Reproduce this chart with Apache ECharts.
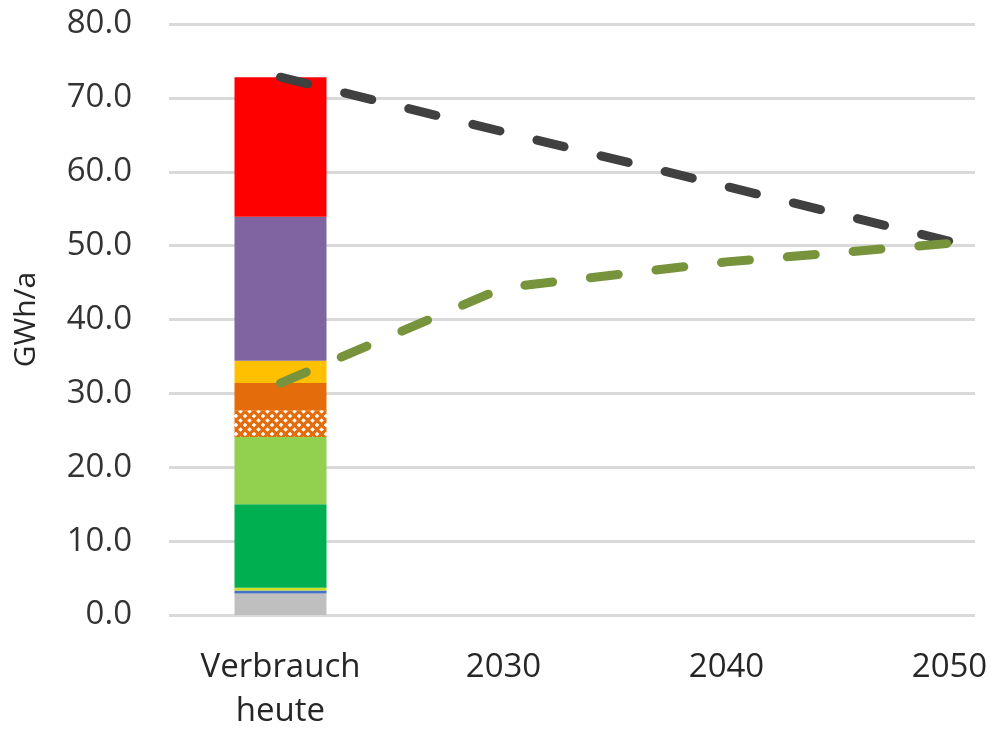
<!DOCTYPE html>
<html>
<head>
<meta charset="utf-8">
<script src="https://cdn.jsdelivr.net/npm/echarts@6/dist/echarts.min.js"></script>
<style>
  html, body { margin: 0; padding: 0; background: #ffffff; overflow: hidden; }
  #chart { width: 997px; height: 730px; }
</style>
</head>
<body>
<div id="chart"></div>
<script>
// Categories on the x axis
const categories = ['Verbrauch\nheute', '2030', '2040', '2050'];

// Stacked consumption today, bottom to top (GWh/a)
const segGrau       = [2.9, null, null, null];
const segBlau       = [0.4, null, null, null];
const segGelb       = [0.4, null, null, null];
const segGruen      = [11.3, null, null, null];
const segHellgruen  = [9.1, null, null, null];
const segSchraffur  = [3.6, null, null, null];
const segOrange     = [3.7, null, null, null];
const segGold       = [3.0, null, null, null];
const segViolett    = [19.5, null, null, null];
const segRot        = [18.9, null, null, null];

// Trend lines (null = no value at that category)
const reduktionPfad = [72.8, null, null, 50.6];
const ausbauPfad    = [31.4, 44.3, 47.8, 50.3];

// y axis ticks
const yMin = 0, yMax = 80, yStep = 10;

// Orange hatch tile for the patterned segment
function hatchTile() {
  const c = document.createElement('canvas');
  c.width = 9; c.height = 9;
  const g = c.getContext('2d');
  g.fillStyle = '#e46c0a';
  g.fillRect(0, 0, 9, 9);
  g.fillStyle = '#ffffff';
  [[2, 2], [6.5, 6.5]].forEach(function (d) {
    g.beginPath();
    g.moveTo(d[0], d[1] - 2.3);
    g.lineTo(d[0] + 2.3, d[1]);
    g.lineTo(d[0], d[1] + 2.3);
    g.lineTo(d[0] - 2.3, d[1]);
    g.closePath();
    g.fill();
  });
  return c;
}

const chart = echarts.init(document.getElementById('chart'), null, { renderer: 'canvas' });

function barSeries(name, data, color) {
  return {
    name: name,
    type: 'bar',
    stack: 'heute',
    xAxisIndex: 1,
    yAxisIndex: 1,
    data: data,
    barWidth: 92,
    itemStyle: { color: color },
    emphasis: { disabled: true },
    z: 2
  };
}

const dashLine = [28, 38];

const option = {
  animation: false,
  backgroundColor: '#ffffff',
  grid: [
    // visible frame: gridlines and y labels
    { left: 169, top: 24, right: 22, bottom: 115, containLabel: false, outerBoundsMode: 'none' },
    // plotting frame: the last category band runs past the right edge
    { left: 169, top: 24, right: -64, bottom: 115, containLabel: false, outerBoundsMode: 'none' }
  ],
  xAxis: [
    {
      type: 'category',
      gridIndex: 0,
      data: categories,
      show: false
    },
    {
      type: 'category',
      gridIndex: 1,
      data: categories,
      axisLine: { show: false },
      axisTick: { show: false },
      splitLine: { show: false },
      axisLabel: {
        interval: 0,
        color: '#262626',
        fontFamily: 'Open Sans, sans-serif',
        fontSize: 33,
        margin: 31,
        lineHeight: 44,
        verticalAlign: 'top'
      }
    }
  ],
  yAxis: [
    {
      type: 'value',
      gridIndex: 0,
      min: yMin,
      max: yMax,
      interval: yStep,
      name: 'GWh/a',
      nameLocation: 'middle',
      nameGap: 128,
      nameTextStyle: {
        color: '#262626',
        fontFamily: 'Open Sans, sans-serif',
        fontSize: 30
      },
      axisLine: { show: false },
      axisTick: { show: false },
      splitLine: { lineStyle: { color: '#d9d9d9', width: 3 } },
      axisLabel: {
        color: '#333333',
        fontFamily: 'Open Sans, sans-serif',
        fontSize: 33,
        margin: 37,
        formatter: function (v) { return v.toFixed(1); }
      }
    },
    {
      type: 'value',
      gridIndex: 1,
      min: yMin,
      max: yMax,
      interval: yStep,
      show: false,
      splitLine: { show: false }
    }
  ],
  series: [
    barSeries('Grau', segGrau, '#bfbfbf'),
    barSeries('Blau', segBlau, '#4472c4'),
    barSeries('Gelb', segGelb, '#cfe020'),
    barSeries('Grün', segGruen, '#00b050'),
    barSeries('Hellgrün', segHellgruen, '#92d050'),
    barSeries('Schraffur', segSchraffur, { image: hatchTile(), repeat: 'repeat' }),
    barSeries('Orange', segOrange, '#e46c0a'),
    barSeries('Gold', segGold, '#ffc000'),
    barSeries('Violett', segViolett, '#8064a2'),
    barSeries('Rot', segRot, '#ff0000'),
    {
      name: 'Reduktion',
      type: 'line',
      xAxisIndex: 1,
      yAxisIndex: 1,
      data: reduktionPfad,
      connectNulls: true,
      showSymbol: false,
      symbol: 'none',
      lineStyle: { color: '#404040', width: 9, type: dashLine, cap: 'round' },
      z: 5
    },
    {
      name: 'Ausbau',
      type: 'line',
      xAxisIndex: 1,
      yAxisIndex: 1,
      data: ausbauPfad,
      showSymbol: false,
      symbol: 'none',
      lineStyle: { color: '#77933c', width: 9, type: dashLine, cap: 'round', join: 'round' },
      z: 5
    }
  ]
};

chart.setOption(option);
</script>
</body>
</html>
